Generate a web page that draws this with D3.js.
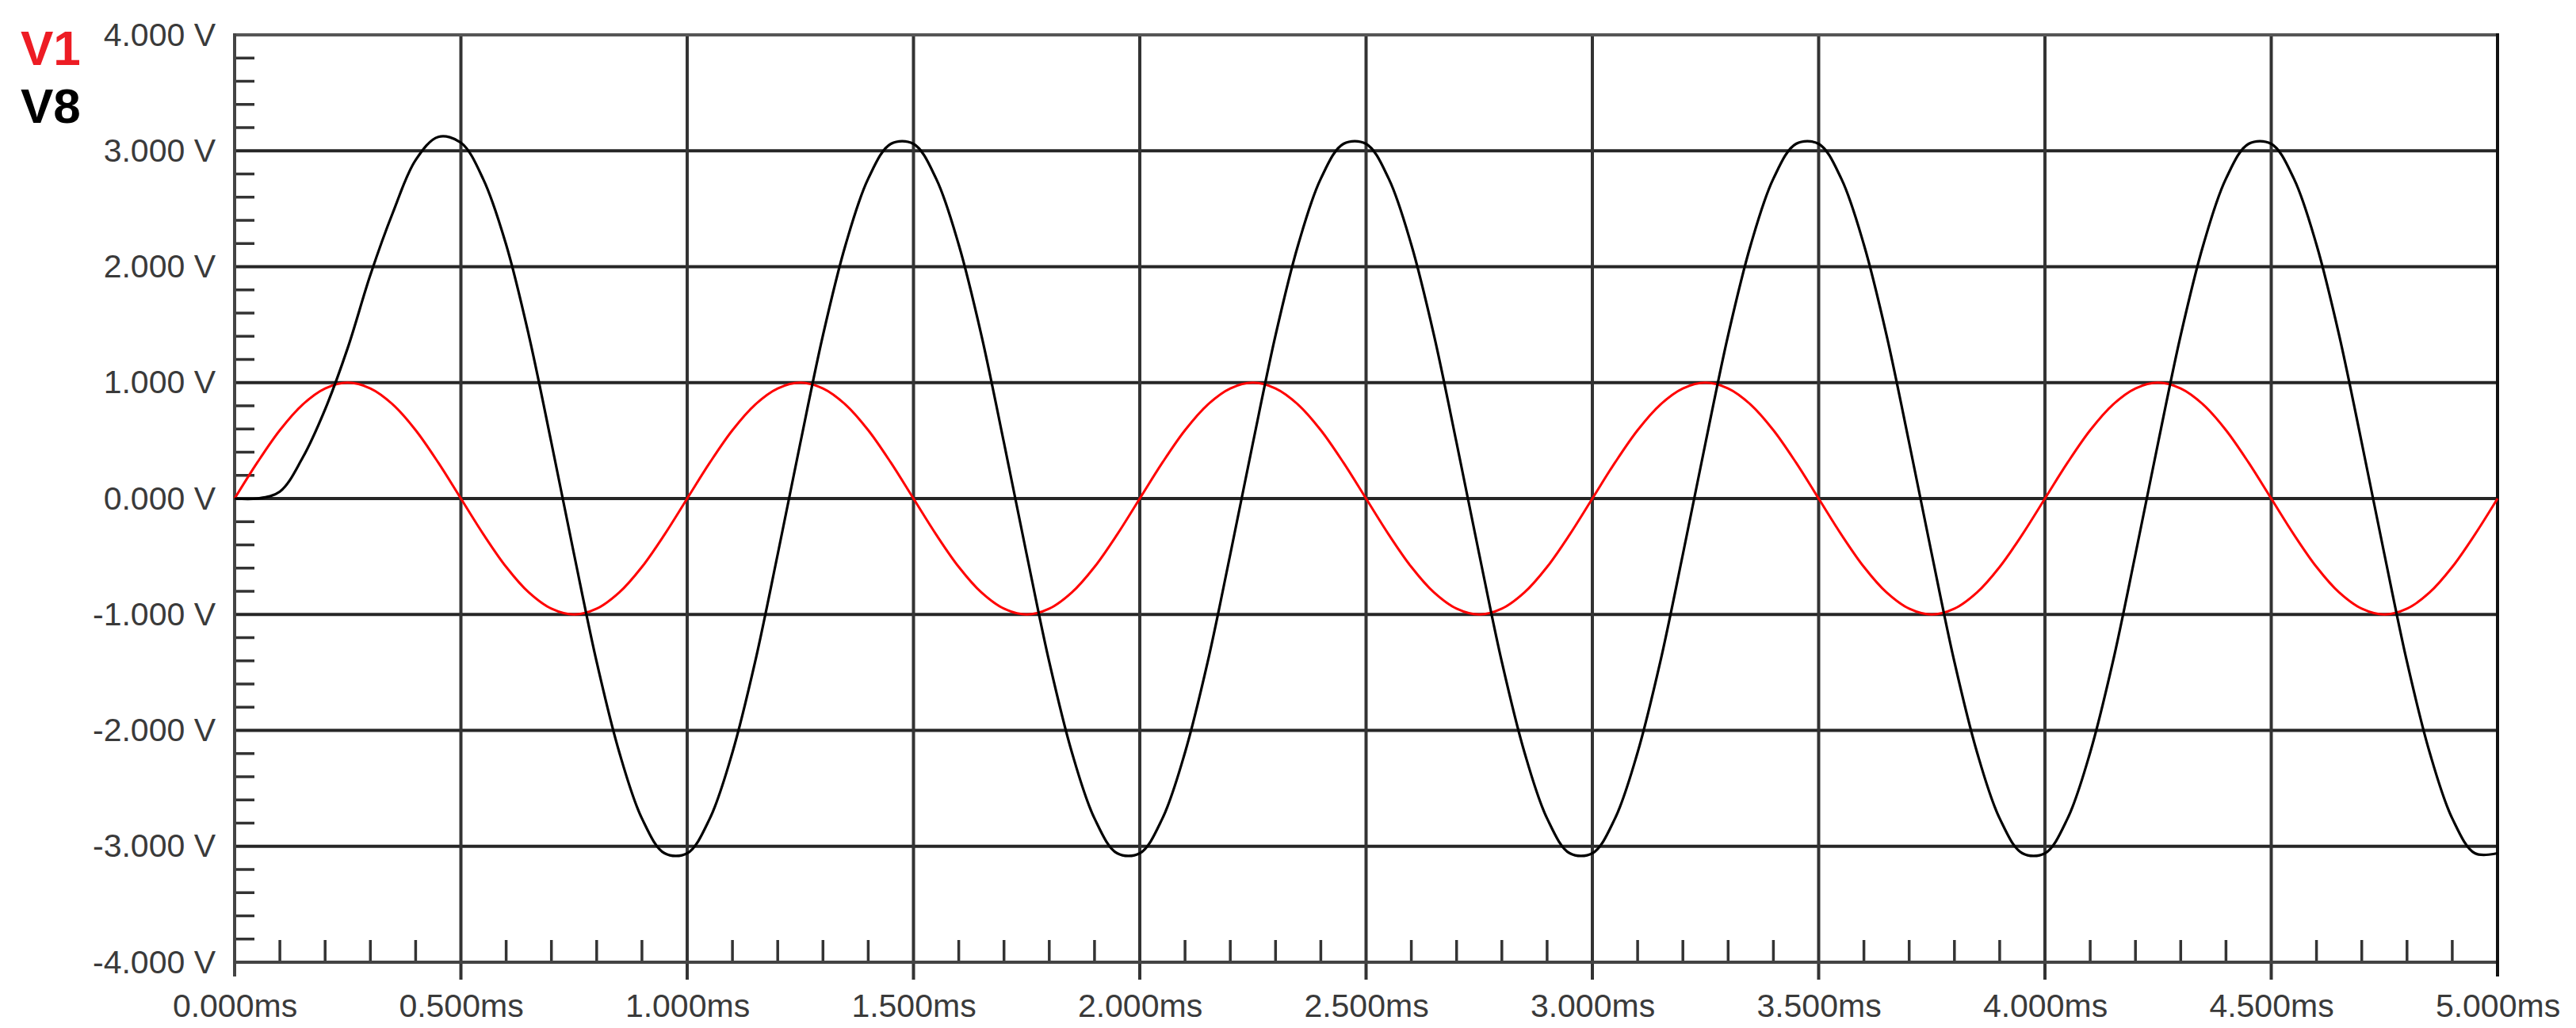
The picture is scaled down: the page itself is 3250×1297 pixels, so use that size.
<!DOCTYPE html>
<html>
<head>
<meta charset="utf-8">
<script src="https://cdn.jsdelivr.net/npm/d3@7"></script>
<style>
  body { margin: 0; background: #fff; }
  svg { display: block; }
  .tick text { font-family: "Liberation Sans", Arial, sans-serif; font-size: 41px; fill: #3a3a3a; }
</style>
</head>
<body>
<div id="chart"></div>
<script>
// sample spacing of the traces (ms)
var stepMs = 0.05;

// V1 - source, 1 V peak
var v1 = [
  0, 0.31, 0.59, 0.81, 0.95, 1.00, 0.95, 0.81, 0.59, 0.31, 0, -0.31, -0.59, -0.81, -0.95, -1.00, -0.95, -0.81, -0.59, -0.31,
  0, 0.31, 0.59, 0.81, 0.95, 1.00, 0.95, 0.81, 0.59, 0.31, 0, -0.31, -0.59, -0.81, -0.95, -1.00, -0.95, -0.81, -0.59, -0.31,
  0, 0.31, 0.59, 0.81, 0.95, 1.00, 0.95, 0.81, 0.59, 0.31, 0, -0.31, -0.59, -0.81, -0.95, -1.00, -0.95, -0.81, -0.59, -0.31,
  0, 0.31, 0.59, 0.81, 0.95, 1.00, 0.95, 0.81, 0.59, 0.31, 0, -0.31, -0.59, -0.81, -0.95, -1.00, -0.95, -0.81, -0.59, -0.31,
  0, 0.31, 0.59, 0.81, 0.95, 1.00, 0.95, 0.81, 0.59, 0.31, 0, -0.31, -0.59, -0.81, -0.95, -1.00, -0.95, -0.81, -0.59, -0.31,
  0
];

// V8 - output, about 3.1 V peak, starts with a short transient
var v8 = [
  0, 0, 0.06, 0.35, 0.77, 1.30, 1.93, 2.47, 2.92, 3.12, 3.07, 2.75, 2.19, 1.41, 0.48, -0.48, -1.41, -2.19, -2.76, -3.06,
  -3.06, -2.76, -2.19, -1.41, -0.48, 0.48, 1.41, 2.19, 2.76, 3.06, 3.06, 2.76, 2.19, 1.41, 0.48, -0.48, -1.41, -2.19, -2.76, -3.06,
  -3.06, -2.76, -2.19, -1.41, -0.48, 0.48, 1.41, 2.19, 2.76, 3.06, 3.06, 2.76, 2.19, 1.41, 0.48, -0.48, -1.41, -2.19, -2.76, -3.06,
  -3.06, -2.76, -2.19, -1.41, -0.48, 0.48, 1.41, 2.19, 2.76, 3.06, 3.06, 2.76, 2.19, 1.41, 0.48, -0.48, -1.41, -2.19, -2.76, -3.06,
  -3.06, -2.76, -2.19, -1.41, -0.48, 0.48, 1.41, 2.19, 2.76, 3.06, 3.06, 2.76, 2.19, 1.41, 0.48, -0.48, -1.41, -2.19, -2.76, -3.06,
  -3.06
];

var xTicks = [0, 0.5, 1, 1.5, 2, 2.5, 3, 3.5, 4, 4.5, 5];
var yTicks = [-4, -3, -2, -1, 0, 1, 2, 3, 4];
var legend = [{name: "V1", color: "#ed1c24"}, {name: "V8", color: "#000"}];

var W = 3250, H = 1297;
var pLeft = 296, pRight = 3151, pTop = 44, pBottom = 1214;

var svg = d3.select("#chart").append("svg").attr("width", W).attr("height", H);

var x = d3.scaleLinear().domain([0, 5]).range([pLeft, pRight]);
var y = d3.scaleLinear().domain([-4, 4]).range([pBottom, pTop]);

// plain hyphen for negatives, like the simulator prints
var fmt = d3.formatLocale({decimal: ".", thousands: ",", grouping: [3], currency: ["", ""], minus: "-"}).format(".3f");

// minor ticks: 0.1 ms on x, 0.2 V on y
var xMinor = d3.range(0, 50).map(function(i) { return i / 10; }).filter(function(d) { return Math.round(d * 10) % 5 != 0; });
var yMinor = d3.range(-20, 20).map(function(i) { return i / 5; }).filter(function(d) { return Math.round(d * 5) % 5 != 0; });

svg.append("g").selectAll("line").data(yMinor).enter().append("line")
  .attr("x1", pLeft).attr("x2", pLeft + 25)
  .attr("y1", function(d) { return y(d); }).attr("y2", function(d) { return y(d); })
  .attr("stroke", "#333").attr("stroke-width", 3.5);

svg.append("g").selectAll("line").data(xMinor).enter().append("line")
  .attr("x1", function(d) { return x(d); }).attr("x2", function(d) { return x(d); })
  .attr("y1", pBottom).attr("y2", pBottom - 28)
  .attr("stroke", "#333").attr("stroke-width", 3.5);

// grid
svg.append("g").selectAll("line").data(yTicks.slice(1, -1)).enter().append("line")
  .attr("x1", pLeft).attr("x2", pRight)
  .attr("y1", function(d) { return y(d); }).attr("y2", function(d) { return y(d); })
  .attr("stroke", "#262626").attr("stroke-width", 4);

svg.append("g").selectAll("line").data(xTicks.slice(1, -1)).enter().append("line")
  .attr("x1", function(d) { return x(d); }).attr("x2", function(d) { return x(d); })
  .attr("y1", pTop).attr("y2", pBottom + 22)
  .attr("stroke", "#333").attr("stroke-width", 4);

// frame
svg.append("line").attr("x1", pLeft).attr("x2", pRight).attr("y1", pTop).attr("y2", pTop)
  .attr("stroke", "#555").attr("stroke-width", 4);
svg.append("line").attr("x1", pLeft).attr("x2", pRight).attr("y1", pBottom).attr("y2", pBottom)
  .attr("stroke", "#444").attr("stroke-width", 4);
svg.append("line").attr("x1", pLeft).attr("x2", pLeft).attr("y1", pTop - 2).attr("y2", pBottom + 18)
  .attr("stroke", "#444").attr("stroke-width", 4);
svg.append("line").attr("x1", pRight).attr("x2", pRight).attr("y1", pTop - 2).attr("y2", pBottom + 18)
  .attr("stroke", "#111").attr("stroke-width", 4);

// traces
var line = d3.line()
  .x(function(d, i) { return x(i * stepMs); })
  .y(function(d) { return y(d); })
  .curve(d3.curveCatmullRom);

svg.append("path").datum(v1).attr("d", line)
  .attr("fill", "none").attr("stroke", "#ff0000").attr("stroke-width", 3);
svg.append("path").datum(v8).attr("d", line)
  .attr("fill", "none").attr("stroke", "#000").attr("stroke-width", 3.2);

// axis labels
svg.append("g").attr("transform", "translate(" + pLeft + ",0)")
  .call(d3.axisLeft(y).tickValues(yTicks).tickSize(0).tickPadding(24)
    .tickFormat(function(d) { return fmt(d) + " V"; }))
  .call(function(g) { g.select(".domain").remove(); });

svg.append("g").attr("transform", "translate(0," + pBottom + ")")
  .call(d3.axisBottom(x).tickValues(xTicks).tickSize(0).tickPadding(40)
    .tickFormat(function(d) { return fmt(d) + "ms"; }))
  .call(function(g) { g.select(".domain").remove(); });

// legend
svg.append("g").selectAll("text").data(legend).enter().append("text")
  .attr("x", 26).attr("y", function(d, i) { return 82 + i * 73; })
  .attr("font-family", "Liberation Sans, Arial, sans-serif")
  .attr("font-weight", "bold").attr("font-size", 62)
  .attr("fill", function(d) { return d.color; })
  .text(function(d) { return d.name; });
</script>
</body>
</html>
